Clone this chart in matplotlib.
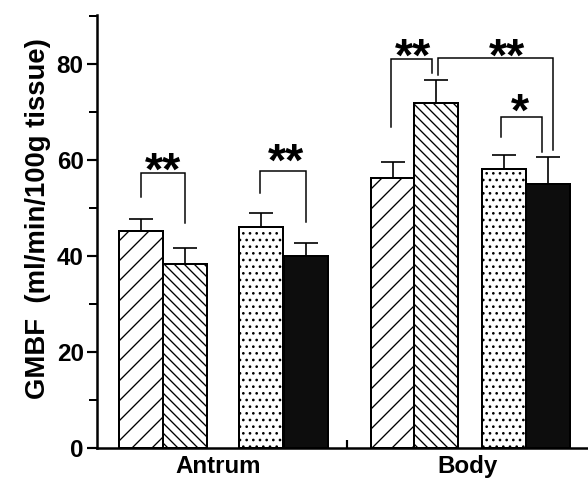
import matplotlib
matplotlib.use('Agg')
import matplotlib.pyplot as plt
from matplotlib.ticker import MultipleLocator

plt.rcParams['font.family'] = ['Liberation Sans', 'DejaVu Sans']
plt.rcParams['font.weight'] = 'bold'
plt.rcParams['hatch.linewidth'] = 0.8

# data (GMBF, ml/min/100g tissue)
groups = ['Antrum', 'Body']
means = [45.2, 38.3, 46.0, 40.0, 56.2, 71.9, 58.1, 55.0]
errors = [2.5, 3.4, 3.0, 2.7, 3.4, 4.8, 2.9, 5.6]

# layout (bar units)
xpos = [1.0, 2.0, 3.72, 4.75, 6.72, 7.70, 9.24, 10.24]
hatches = ['//', '\\\\\\\\', '...', '', '//', '\\\\\\\\', '...', '']
colors = ['white', 'white', 'white', '#0d0d0d'] * 2
group_x = [2.75, 8.43]

# significance brackets: (x_left, y_left_bottom, x_right, y_right_bottom, y_top)
brackets = [
    (1.0, 52.3, 2.0, 46.9, 57.3),
    (3.70, 53.1, 4.75, 47.1, 57.7),
    (6.68, 66.9, 7.62, 78.1, 81.0),
    (7.75, 77.7, 10.36, 62.1, 81.25),
    (9.18, 64.8, 10.11, 61.7, 69.0),
]
stars = [('**', 1.5, 59.6), ('**', 4.3, 61.5), ('**', 7.18, 83.3),
         ('**', 9.32, 83.3), ('*', 9.61, 71.9)]

fig = plt.figure(figsize=(4.9, 4.0), dpi=120)
ax = fig.add_axes([0.165, 0.0667, 0.835, 0.902])

ax.bar(xpos, means, width=1.0, color=colors, edgecolor='black',
       linewidth=1.2, hatch=hatches, zorder=2)
ax.errorbar(xpos, means, yerr=[[0] * len(means), errors], fmt='none',
            ecolor='black', elinewidth=1.0, capsize=7, capthick=1.0, zorder=3)

for xl, yl, xr, yr, yt in brackets:
    ax.plot([xl, xl, xr, xr], [yl, yt, yt, yr], color='black', lw=0.9,
            zorder=3, solid_joinstyle='miter')

for s, x, y in stars:
    ax.text(x, y - 2.3, s, ha='center', va='center', fontsize=28,
            fontweight='bold')

ax.set_xlim(0, 11.16)
ax.set_ylim(0, 90.2)

ax.spines['top'].set_visible(False)
ax.spines['right'].set_visible(False)
ax.spines['left'].set_linewidth(1.5)
ax.spines['bottom'].set_linewidth(1.5)

ax.yaxis.set_major_locator(MultipleLocator(20))
ax.yaxis.set_minor_locator(MultipleLocator(10))
ax.tick_params(axis='y', which='major', length=6, width=1.3, pad=2,
               labelsize=14.5)
ax.tick_params(axis='y', which='minor', length=5, width=1.2)

ax.set_xticks(group_x)
ax.set_xticklabels(groups, fontsize=14.5, fontweight='bold')
ax.set_xticks([5.68], minor=True)
ax.tick_params(axis='x', which='major', length=0, pad=4)
ax.tick_params(axis='x', which='minor', direction='in', length=5, width=1.3)

ax.set_ylabel('GMBF  (ml/min/100g tissue)', fontsize=16.5, fontweight='bold')
ax.yaxis.set_label_coords(-0.094, 0.53)

fig.savefig('out.png', dpi=120)
